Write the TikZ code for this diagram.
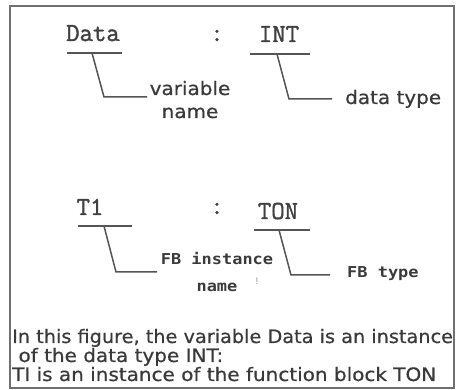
\documentclass[tikz,border=0pt]{standalone}
\usepackage{fontspec}
\newfontfamily\labelfont[FakeStretch=1.08,FakeBold=0.6]{DejaVu Sans}
\newfontfamily\fbfont[FakeStretch=1.13]{DejaVu Sans Mono}
\newfontfamily\codefont[FakeBold=1.4]{Latin Modern Mono}
\definecolor{ink}{HTML}{3A3A3A}
\definecolor{codeink}{HTML}{404040}
\definecolor{leadgray}{HTML}{555555}
\definecolor{framegray}{HTML}{707070}
\tikzset{
  codetext/.style={font=\fontsize{26}{26}\selectfont\codefont, text=codeink, inner sep=0pt, anchor=base},
  lbl/.style={font=\fontsize{18.5}{23}\selectfont\labelfont, text=ink, inner sep=0pt},
  fblbl/.style={font=\fontsize{15}{27}\selectfont\fbfont\bfseries, text=ink, inner sep=0pt},
  caption/.style={font=\fontsize{18.5}{19}\selectfont\labelfont, text=ink, inner sep=0pt, anchor=base west},
  lead/.style={draw=leadgray, line width=1.5pt},
}
\begin{document}
\begin{tikzpicture}[x=1pt,y=-1pt]
\useasboundingbox (0,0) rectangle (456,390);
\fill[white] (0,0) rectangle (456,390);
% frame
\draw[framegray, line width=1.8pt] (10,6) rectangle (454,388);

% ---- declaration  Data : INT
\node[codetext] (data) at (93,41) {Data};
\node[codetext] (colA) at (217,41) {:};
\node[codetext] (int)  at (279,42) {INT};

\coordinate (dataL) at (67,53);  \coordinate (dataR) at (122,53);
\coordinate (dataT) at (92,53);  \coordinate (dataK) at (104,97); \coordinate (dataE) at (147,97);
\coordinate (intL) at (250,54);  \coordinate (intR) at (310,54);
\coordinate (intT) at (277,54);  \coordinate (intK) at (289,99);  \coordinate (intE) at (332,99);

\draw[lead] (dataL) -- (dataR);
\draw[lead] (dataT) -- (dataK) -- (dataE);
\draw[lead] (intL) -- (intR);
\draw[lead] (intT) -- (intK) -- (intE);

% multi-line nodes: the base anchor sits on the last line
\node[lbl, align=center, anchor=base] (varname) at (190,118) {variable\\name};
\node[lbl, anchor=base west] (dtype) at (345,104) {data type};

% ---- declaration  T1 : TON
\node[codetext] (t1)   at (90,215) {T1};
\node[codetext] (colB) at (217,214) {:};
\node[codetext] (ton)  at (278,219) {TON};

\coordinate (t1L) at (78,226);   \coordinate (t1R) at (132,226);
\coordinate (t1T) at (104,226);  \coordinate (t1K) at (116,272); \coordinate (t1E) at (157,272);
\coordinate (tonL) at (254,230); \coordinate (tonR) at (310,230);
\coordinate (tonT) at (279,230); \coordinate (tonK) at (291,275); \coordinate (tonE) at (330,275);

\draw[lead] (t1L) -- (t1R);
\draw[lead] (t1T) -- (t1K) -- (t1E);
\draw[lead] (tonL) -- (tonR);
\draw[lead] (tonT) -- (tonK) -- (tonE);

\node[fblbl, align=center, anchor=base] (fbinst) at (217,292) {FB instance\\name};
\node[font=\fontsize{9}{9}\selectfont\fbfont, text=gray!70, inner sep=0pt, anchor=base] (tick) at (257,285) {!};
\node[fblbl, anchor=base west] (fbtype) at (347,278) {FB type};

% ---- explanation
\node[caption] (cap1) at (12,343) {\scalebox{0.965}[1]{In this figure, the variable Data is an instance}};
\node[caption] (cap2) at (12,362) {\ of the data type INT:};
\node[caption] (cap3) at (12,381) {TI is an instance of the function block TON};
\end{tikzpicture}
\end{document}
